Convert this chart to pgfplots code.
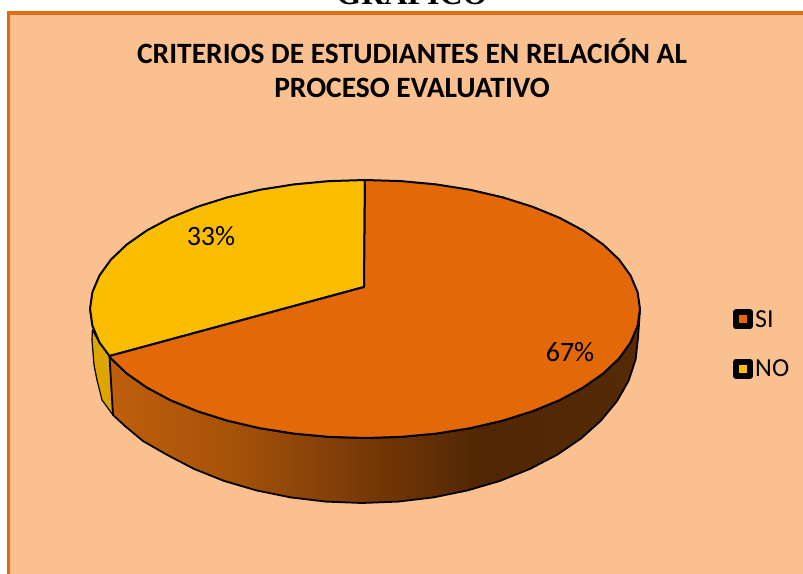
\documentclass[border=0pt]{standalone}
\usepackage{pgfplots}
\pgfplotsset{compat=1.18}
\usepackage{fontspec}
\setmainfont{Carlito}
\newfontfamily\serifb[BoldFont={Liberation Serif Bold}]{Liberation Serif}
\definecolor{bgc}{HTML}{FAC090}
\definecolor{framec}{HTML}{E36C0A}
\definecolor{sic}{HTML}{E26808}
\definecolor{noc}{HTML}{FBBD00}
\definecolor{noside}{HTML}{DDA500}
\definecolor{sa}{HTML}{BE5F0C}
\definecolor{sb}{HTML}{A8530A}
\definecolor{sc}{HTML}{7C3B07}
\definecolor{sd}{HTML}{512604}
\definecolor{se}{HTML}{552A05}
\pgfdeclarehorizontalshading{sideshade}{100bp}{color(0bp)=(sa); color(25bp)=(sa); color(36bp)=(sb); color(48bp)=(sc); color(60bp)=(sd); color(75bp)=(se); color(100bp)=(se)}
\begin{document}
\begin{tikzpicture}
\clip (0,0) rectangle (803pt,573pt);
\begin{axis}[
  at={(0,0)},anchor=south west,
  width=803pt,height=573pt,scale only axis,
  xmin=0,xmax=803,ymin=0,ymax=573,y dir=reverse,
  axis lines=none,clip=false,
  legend style={at={(axis cs:736,309)},anchor=north west,draw=none,fill=none,
    font=\fontsize{26}{28}\selectfont,row sep=29pt,inner sep=0pt,
    nodes={inner sep=1pt,anchor=west},
    /tikz/every odd column/.append style={column sep=4pt}},
  legend cell align=left,
]
\fill[white] (axis cs:0,0) rectangle (axis cs:803,573);
\fill[bgc,draw=framec,line width=3.6pt] (axis cs:8.5,13) rectangle (axis cs:830,600);
\node[font=\serifb\bfseries\fontsize{32}{32}\selectfont,anchor=base] at (axis cs:412,4.5) {GRÁFICO};
\node[font=\bfseries\fontsize{29.5}{34}\selectfont,align=center] at (axis cs:412,68) {CRITERIOS DE ESTUDIANTES EN RELACIÓN AL\\PROCESO EVALUATIVO};

% side of NO slice
\addplot[forget plot,fill=noside,draw=black,line width=1.2pt,line join=round] coordinates {
 (109.5,356) (99.4,342.4) (92.4,330) (92,340) (94,365) (97,380) (102,400) (113,415)} -- cycle;
% side of SI slice
\addplot[forget plot,shading=sideshade,draw=black,line width=1.8pt,line join=round] coordinates {
 (640,309) (637.6,325.8) (630.6,342.4) (619.1,358.4) (603.2,373.5) (583.2,387.5)
 (559.5,400.2) (532.4,411.3) (502.5,420.7) (470.2,428.2) (436.2,433.6) (400.9,436.9)
 (365,438) (329.1,436.9) (293.8,433.6) (259.8,428.2) (227.5,420.7) (197.6,411.3)
 (170.5,400.2) (146.8,387.5) (126.8,373.5) (110.9,358.4) (109.5,356)
 (113,415) (125,426) (143,441) (166.8,454.7) (194,468.9) (224,480.9) (256.4,490.4)
 (290.6,497.4) (326,501.6) (362,503) (398,501.6) (433.4,497.4) (467.6,490.4)
 (500,480.9) (530,468.9) (557.2,454.7) (581,438.5) (601,420.5) (617,401.1)
 (628.6,380.7) (635.6,359.5) (638,338)} -- cycle;
% top of NO slice (33%)
\addplot[forget plot,fill=noc,draw=black,line width=2pt,line join=round] coordinates {
 (364,287) (109.5,356) (99.4,342.4) (92.4,325.8) (90,309) (92.4,292.2) (99.4,275.6)
 (110.9,259.6) (126.8,244.5) (146.8,230.5) (170.5,217.8) (197.6,206.7) (227.5,197.3)
 (259.8,189.8) (293.8,184.4) (329.1,181.1) (365,180)} -- cycle;
% top of SI slice (67%)
\addplot[forget plot,fill=sic,draw=black,line width=2pt,line join=round] coordinates {
 (364,287) (365,180) (400.9,181.1) (436.2,184.4) (470.2,189.8) (502.5,197.3) (532.4,206.7)
 (559.5,217.8) (583.2,230.5) (603.2,244.5) (619.1,259.6) (630.6,275.6) (637.6,292.2)
 (640,309) (637.6,325.8) (630.6,342.4) (619.1,358.4) (603.2,373.5) (583.2,387.5)
 (559.5,400.2) (532.4,411.3) (502.5,420.7) (470.2,428.2) (436.2,433.6) (400.9,436.9)
 (365,438) (329.1,436.9) (293.8,433.6) (259.8,428.2) (227.5,420.7) (197.6,411.3)
 (170.5,400.2) (146.8,387.5) (126.8,373.5) (110.9,358.4) (109.5,356)} -- cycle;

\node[font=\fontsize{28}{28}\selectfont] at (axis cs:211,236) {33\%};
\node[font=\fontsize{28}{28}\selectfont] at (axis cs:570,352) {67\%};

\addlegendimage{only marks,mark=square*,mark size=7pt,mark options={fill=sic,draw=black,line width=6pt,line join=round}}
\addlegendentry{SI}
\addlegendimage{only marks,mark=square*,mark size=7pt,mark options={fill=noc,draw=black,line width=6pt,line join=round}}
\addlegendentry{NO}
\end{axis}
\end{tikzpicture}
\end{document}
